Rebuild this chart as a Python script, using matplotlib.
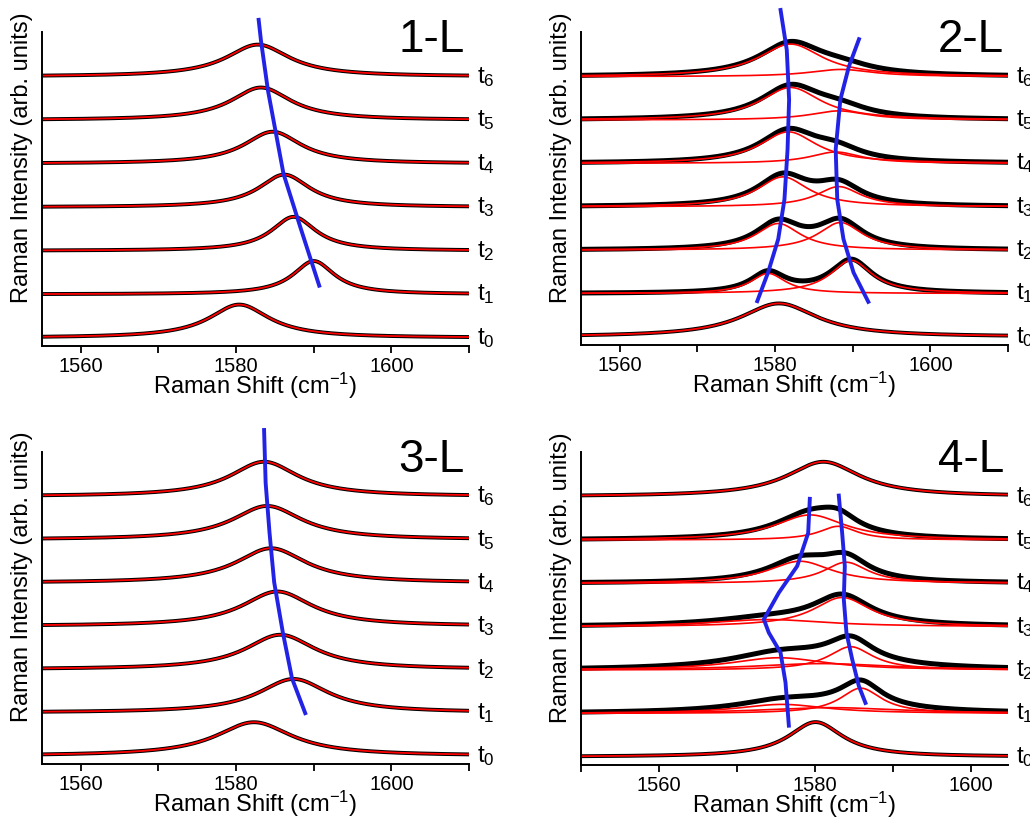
import numpy as np
import matplotlib
matplotlib.use('Agg')
import matplotlib.pyplot as plt
from matplotlib.ticker import MultipleLocator

plt.rcParams['font.family'] = ['Liberation Sans', 'DejaVu Sans']
plt.rcParams['mathtext.fontset'] = 'custom'
plt.rcParams['mathtext.rm'] = 'Liberation Sans'
plt.rcParams['mathtext.it'] = 'Liberation Sans:italic'

# picos de cada espectro t0..t6: (centro, FWHM, altura)
picos_1L = [
    [(1580.4, 9.5, 1.02)],
    [(1590.0, 6.5, 1.02)],
    [(1587.4, 7.0, 1.04)],
    [(1586.2, 8.0, 1.00)],
    [(1584.7, 9.0, 0.98)],
    [(1583.2, 9.5, 1.00)],
    [(1582.8, 10.0, 0.98)],
]
picos_2L = [
    [(1580.5, 12.0, 1.03)],
    [(1579.1, 5.5, 0.62), (1589.8, 6.5, 1.02)],
    [(1580.4, 7.0, 0.82), (1588.4, 7.0, 0.85)],
    [(1581.0, 8.0, 0.92), (1588.2, 7.0, 0.62)],
    [(1581.7, 9.0, 0.97), (1587.8, 8.0, 0.35)],
    [(1582.0, 9.5, 1.00), (1588.2, 9.0, 0.28)],
    [(1582.0, 10.0, 1.00), (1588.5, 10.0, 0.22)],
]
picos_3L = [
    [(1582.3, 12.0, 1.04)],
    [(1587.4, 11.0, 1.04)],
    [(1585.7, 11.0, 1.07)],
    [(1585.3, 11.0, 1.07)],
    [(1584.5, 11.0, 1.07)],
    [(1584.0, 11.0, 1.04)],
    [(1583.6, 10.7, 1.07)],
]
picos_4L = [
    [(1580.1, 8.5, 1.07)],
    [(1575.8, 14.0, 0.28), (1585.9, 6.5, 0.78), (1582.0, 22.0, 0.18)],
    [(1575.4, 15.0, 0.38), (1584.6, 7.0, 0.72), (1581.0, 22.0, 0.20)],
    [(1574.1, 18.0, 0.22), (1583.5, 9.0, 0.90)],
    [(1578.1, 10.0, 0.68), (1584.0, 7.0, 0.65)],
    [(1579.4, 11.0, 0.77), (1583.0, 6.0, 0.42)],
    [(1581.1, 11.5, 1.07)],
]

# linhas azuis que acompanham as posicoes dos picos
guia_1L = [([1582.9, 1583.2, 1584.1, 1586.1, 1588.3, 1590.7],
            [9.75, 9.11, 7.58, 5.03, 3.37, 1.60])]
guia_2L = [([1580.7, 1581.5, 1581.8, 1581.6, 1581.2, 1580.4, 1579.1, 1577.7],
            [10.06, 8.83, 7.30, 5.77, 4.23, 3.01, 1.99, 1.10]),
           ([1590.8, 1589.5, 1588.4, 1587.8, 1588.0, 1588.8, 1590.1, 1592.0],
            [9.16, 8.32, 7.30, 5.77, 4.23, 3.01, 1.98, 1.08])]
guia_3L = [([1583.6, 1583.8, 1584.3, 1584.9, 1586.0, 1587.2, 1588.9],
            [10.06, 8.43, 6.89, 5.36, 3.83, 2.39, 1.32])]
guia_4L = [([1579.36, 1579.15, 1577.74, 1575.38, 1573.46, 1574.10, 1575.60, 1576.24, 1576.67],
            [7.94, 6.89, 5.87, 5.05, 4.23, 3.82, 3.21, 2.29, 0.96]),
           ([1583.08, 1583.51, 1583.85, 1583.72, 1584.06, 1584.79, 1585.64, 1586.50],
            [8.04, 6.89, 5.87, 4.85, 3.82, 3.01, 2.19, 1.66])]

DESLOC = 1.335


def lorentz(x, x0, fwhm, h):
    return h / (1 + ((x - x0) / (fwhm / 2)) ** 2)


def desenha_painel(ax, picos, guias, xlim, nome):
    x = np.linspace(xlim[0], xlim[1], 900)
    for k, comps in enumerate(picos):
        base = k * DESLOC
        linhas = [lorentz(x, *c) for c in comps]
        total = np.sum(linhas, axis=0)
        if len(comps) > 1:
            # espectro com varias componentes: so as componentes em vermelho
            ax.plot(x, base + total, color='black', lw=3.6)
            for l in linhas:
                ax.plot(x, base + l, color='red', lw=1.2)
        else:
            ax.plot(x, base + total, color='black', lw=2.8)
            ax.plot(x, base + total, color='red', lw=1.3)
        ax.text(1.019, base, r'$\mathregular{t_{%d}}$' % k, fontsize=17.5,
                transform=ax.get_yaxis_transform(), ha='left', va='center')

    for gx, gy in guias:
        ax.plot(gx, gy, color='#2323e6', lw=2.8, clip_on=False, zorder=5)

    ax.set_xlim(*xlim)
    ax.set_ylim(-0.25, 9.38)
    ax.set_yticks([])
    ax.xaxis.set_major_locator(MultipleLocator(20))
    ax.xaxis.set_minor_locator(MultipleLocator(10))
    ax.tick_params(axis='x', which='both', direction='out', length=5, width=1.3,
                   labelsize=14.5, pad=3)
    for lado in ['top', 'right']:
        ax.spines[lado].set_visible(False)
    for lado in ['left', 'bottom']:
        ax.spines[lado].set_linewidth(1.4)

    ax.set_xlabel(r'Raman Shift (cm$^{\mathregular{-1}}$)', fontsize=17)
    ax.xaxis.set_label_coords(0.5, -0.078)
    ax.set_ylabel('Raman Intensity (arb. units)', fontsize=17)
    ax.yaxis.set_label_coords(-0.02, 0.6)
    ax.text(0.99, 0.935, nome, transform=ax.transAxes, fontsize=33,
            ha='right', va='baseline')


fig = plt.figure(figsize=(10.30, 8.18), dpi=100)
ax1 = fig.add_axes([0.0408, 0.5770, 0.4146, 0.3840])
ax2 = fig.add_axes([0.5641, 0.5782, 0.4146, 0.3826])
ax3 = fig.add_axes([0.0408, 0.0660, 0.4146, 0.3814])
ax4 = fig.add_axes([0.5641, 0.0648, 0.4146, 0.3826])

desenha_painel(ax1, picos_1L, guia_1L, (1555, 1610), '1-L')
desenha_painel(ax2, picos_2L, guia_2L, (1555, 1610), '2-L')
desenha_painel(ax3, picos_3L, guia_3L, (1555, 1610), '3-L')
desenha_painel(ax4, picos_4L, guia_4L, (1550, 1604.8), '4-L')

fig.savefig('out.png', dpi=100)
